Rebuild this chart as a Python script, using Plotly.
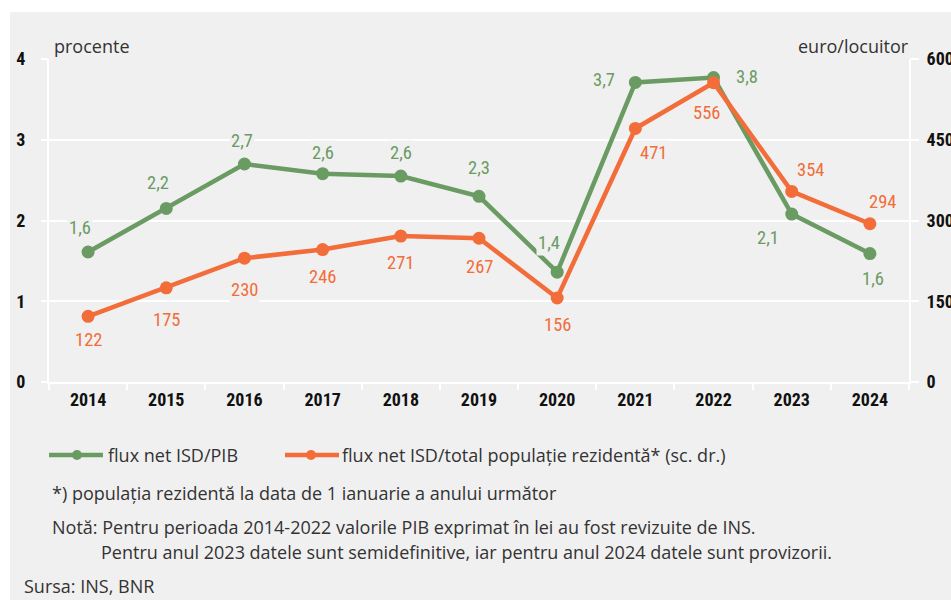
import plotly.graph_objects as go

years = ["2014", "2015", "2016", "2017", "2018", "2019", "2020", "2021", "2022", "2023", "2024"]
isd_pib = [1.61, 2.15, 2.70, 2.58, 2.55, 2.30, 1.36, 3.71, 3.77, 2.08, 1.59]
isd_pib_labels = ["1,6", "2,2", "2,7", "2,6", "2,6", "2,3", "1,4", "3,7", "3,8", "2,1", "1,6"]
isd_loc = [122, 175, 230, 246, 271, 267, 156, 471, 556, 354, 294]
isd_loc_labels = ["122", "175", "230", "246", "271", "267", "156", "471", "556", "354", "294"]
left_ticks = [0, 1, 2, 3, 4]
right_ticks = [0, 150, 300, 450, 600]

name_green = "flux net ISD/PIB"
name_orange = "flux net ISD/total populație rezidentă* (sc. dr.)"

GREEN = "#6a9b63"
ORANGE = "#f26d3a"
BG = "#f0f0f0"
TXT = "#333333"
NARROW = "Noto Sans Condensed, Noto Sans ExtraCondensed, Liberation Sans Narrow, Roboto Condensed, Liberation Sans, sans-serif"
SANS = "Open Sans, Noto Sans, sans-serif"

# label offsets (px) relative to points
g_shift = [(-8, 24), (-8, 25), (-2, 23), (0, 21), (0, 23), (0, 28), (-8, 29), (-31, 2), (33, 1), (-24, -24), (3, -25)]
o_shift = [(0, -24), (0, -32), (0, -32), (0, -27), (0, -27), (0, -29), (0, -27), (18, -25), (-7, -30), (19, 21), (13, 22)]

L, R, T, B = 49, 42, 59, 218
W, H = 951, 600
PW, PH = W - L - R, H - T - B

def px(x):
    return (x - L) / PW

def py(y):
    return (H - B - y) / PH

fig = go.Figure()
fig.add_trace(go.Scatter(x=years, y=isd_pib, mode="lines+markers", name=name_green,
                         line=dict(color=GREEN, width=4.5), marker=dict(size=13, color=GREEN),
                         showlegend=False, yaxis="y"))
fig.add_trace(go.Scatter(x=years, y=isd_loc, mode="lines+markers", name=name_orange,
                         line=dict(color=ORANGE, width=4.5), marker=dict(size=13, color=ORANGE),
                         showlegend=False, yaxis="y2"))

ann = []
for i, yr in enumerate(years):
    ann.append(dict(x=i, y=isd_pib[i], xref="x", yref="y", text=isd_pib_labels[i], showarrow=False,
                    xshift=g_shift[i][0], yshift=g_shift[i][1], bgcolor=BG, borderpad=1,
                    font=dict(family=NARROW, size=18.5, color=GREEN)))
    ann.append(dict(x=i, y=isd_loc[i], xref="x", yref="y2", text=isd_loc_labels[i], showarrow=False,
                    xshift=o_shift[i][0], yshift=o_shift[i][1], bgcolor=BG, borderpad=1,
                    font=dict(family=NARROW, size=18.5, color=ORANGE)))

# axis titles
ann.append(dict(x=px(52), y=py(46), xref="paper", yref="paper", text="procente", showarrow=False,
                xanchor="left", yanchor="middle", font=dict(family=SANS, size=18, color=TXT)))
ann.append(dict(x=px(911), y=py(46), xref="paper", yref="paper", text="euro/locuitor", showarrow=False,
                xanchor="right", yanchor="middle", font=dict(family=SANS, size=18, color=TXT)))

# legend texts
ann.append(dict(x=px(106), y=py(455), xref="paper", yref="paper", text=name_green, showarrow=False,
                xanchor="left", yanchor="middle", font=dict(family=SANS, size=18, color=TXT)))
ann.append(dict(x=px(340), y=py(455), xref="paper", yref="paper", text=name_orange, showarrow=False,
                xanchor="left", yanchor="middle", font=dict(family=SANS, size=18, color=TXT)))

# notes
notes = [
    (50, 493, "*) populația rezidentă la data de 1 ianuarie a anului următor"),
    (50, 527, "Notă: Pentru perioada 2014-2022 valorile PIB exprimat în lei au fost revizuite de INS."),
    (99, 552, "Pentru anul 2023 datele sunt semidefinitive, iar pentru anul 2024 datele sunt provizorii."),
    (22, 586, "Sursa: INS, BNR"),
]
for x0, y0, t in notes:
    ann.append(dict(x=px(x0), y=py(y0), xref="paper", yref="paper", text=t, showarrow=False,
                    xanchor="left", yanchor="middle", font=dict(family=SANS, size=18, color=TXT)))

shapes = [
    dict(type="rect", xref="paper", yref="paper", x0=px(0), x1=px(W), y0=py(0), y1=py(12),
         fillcolor="white", line=dict(width=0), layer="below"),
    dict(type="rect", xref="paper", yref="paper", x0=px(0), x1=px(10), y0=py(0), y1=py(H),
         fillcolor="white", line=dict(width=0), layer="below"),
    # legend lines
    dict(type="line", xref="paper", yref="paper", x0=px(49), x1=px(103), y0=py(455), y1=py(455),
         line=dict(color=GREEN, width=4.5), layer="above"),
    dict(type="circle", xref="paper", yref="paper", x0=px(72), x1=px(82), y0=py(450), y1=py(460),
         fillcolor=GREEN, line=dict(width=0), layer="above"),
    dict(type="line", xref="paper", yref="paper", x0=px(285), x1=px(339), y0=py(455), y1=py(455),
         line=dict(color=ORANGE, width=4.5), layer="above"),
    dict(type="circle", xref="paper", yref="paper", x0=px(306), x1=px(316), y0=py(450), y1=py(460),
         fillcolor=ORANGE, line=dict(width=0), layer="above"),
]

fig.update_layout(
    width=W, height=H,
    margin=dict(l=L, r=R, t=T, b=B, autoexpand=False),
    paper_bgcolor=BG, plot_bgcolor=BG,
    showlegend=False,
    annotations=ann, shapes=shapes,
    xaxis=dict(type="category", range=[-0.5, 10.5], showgrid=False, showline=True, linecolor="white", linewidth=2,
               ticks="outside", tickson="boundaries", tickcolor="white", tickwidth=2, ticklen=6,
               tickfont=dict(family=NARROW, size=18, color="#111111", weight="bold"),
               tickangle=0, zeroline=False, mirror=False, automargin=False),
    yaxis=dict(range=[0, 4], tickvals=left_ticks, ticktext=[str(v) for v in left_ticks],
               showgrid=True, gridcolor="white", gridwidth=2, zeroline=False,
               showline=True, linecolor="white", linewidth=2, automargin=False,
               ticks="outside", tickcolor="white", tickwidth=2, ticklen=6, ticklabelstandoff=12,
               tickfont=dict(family=NARROW, size=18, color="#111111", weight="bold")),
    yaxis2=dict(range=[0, 600], tickvals=right_ticks, ticktext=[str(v) for v in right_ticks],
                overlaying="y", side="right", showgrid=False, zeroline=False,
                showline=True, linecolor="white", linewidth=2, automargin=False,
                ticks="outside", tickcolor="white", tickwidth=2, ticklen=8, ticklabelstandoff=4,
                tickfont=dict(family=NARROW, size=18, color="#111111", weight="bold")),
)

fig.write_html("out.html", config={"displayModeBar": False},
               post_script="document.body.style.margin='0';")
